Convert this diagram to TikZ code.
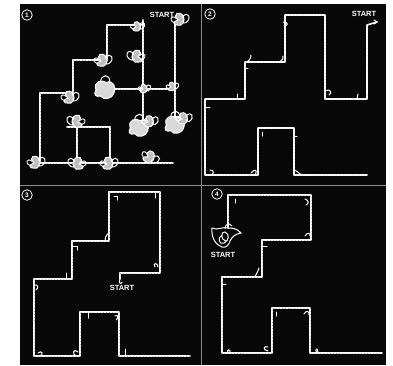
\documentclass[tikz,border=0pt]{standalone}
\usepackage{fontspec}
\setsansfont{Liberation Sans}
\begin{document}
\begin{tikzpicture}[x=1pt,y=-1pt,
  trace/.style={draw=white, line width=1.6pt, line cap=round, line join=round},
  beads/.style={trace, postaction={draw=black!30, line width=0.5pt, dash pattern=on 0.5pt off 2.6pt}},
  hook/.style={draw=white, line width=1pt, line cap=round},
  numcirc/.style={circle, draw=white, line width=0.8pt, inner sep=0pt, minimum size=10.5pt, text=white, font=\fontsize{6.5}{7}\sffamily\bfseries},
  startlbl/.style={text=white, inner sep=0pt, font=\fontsize{7.5}{8}\sffamily\bfseries},
  blob/.pic={
    \draw[draw=white, line width=1pt, fill=black!25] (0,0) .. controls (-5,-4) and (1,-8) .. (4,-3) .. controls (6,1) and (3,5) .. (0,4) .. controls (-3,4) and (-5,2) .. cycle;
    \draw[draw=white, line width=1pt] (3,-2) .. controls (8,-8) and (11,-1) .. (6,2) .. controls (4,3) and (3,1) .. (4,0);
    \draw[draw=white, line width=0.9pt] (-1,-1) .. controls (-6,-5) and (-7,1) .. (-3,2);
  },
  bigblob/.pic={
    \draw[draw=white, line width=1pt, fill=black!15] (-6,0) .. controls (-8,-6) and (-2,-7) .. (1,-5) .. controls (5,-7) and (8,-2) .. (6,2) .. controls (5,6) and (-1,7) .. (-3,4) .. controls (-6,5) and (-8,3) .. cycle;
    \draw[draw=white, line width=1pt] (-3,-5) .. controls (-3,-11) and (4,-11) .. (3,-5);
  }
]
\useasboundingbox (0,0) rectangle (393,365);
\fill[white] (0,0) rectangle (393,365);
\fill[black!97] (20,4) rectangle (386,365);
\draw[black!45, line width=0.6pt] (201,4) -- (201,365);
\draw[black!45, line width=0.6pt] (20,185) -- (386,185);

% ---------- panel 1 ----------
\node[numcirc] (n1) at (27,15) {1};
\node[startlbl] (s1) at (162,15) {START};
\draw[beads] (175,24) -- (175,123);
\draw[beads] (108,89) -- (173,89);
\draw[beads] (143,20) -- (143,128);
\draw[beads] (107,25) -- (143,25);
\draw[beads] (107,25) -- (107,60);
\draw[beads] (73,60) -- (107,60);
\draw[beads] (73,60) -- (73,93);
\draw[beads] (40,93) -- (72,93);
\draw[beads] (40,93) -- (40,163);
\draw[beads] (35,163) -- (173,163);
\draw[beads] (67,127) -- (110,127);
\draw[beads] (77,127) -- (77,163);
\draw[beads] (110,127) -- (110,163);
\pic[scale=1.3] at (178,20) {blob};
\pic[scale=1.0] at (136,27) {blob};
\pic[xscale=-1.3,yscale=1.3] at (138,57) {blob};
\pic[scale=1.3] at (101,61) {blob};
\pic[scale=1.3] at (68,98) {blob};
\pic[scale=1.5] at (105,90) {bigblob};
\pic[scale=0.9] at (143,89) {blob};
\pic[scale=0.9] at (171,87) {blob};
\pic[scale=1.45] at (139,128) {bigblob};
\pic[scale=1.2] at (148,122) {blob};
\pic[scale=1.45] at (175,125) {bigblob};
\pic[scale=1.2] at (182,119) {blob};
\pic[xscale=-1.3,yscale=1.3] at (78,122) {blob};
\pic[scale=1.3] at (34,163) {blob};
\pic[xscale=-1.3,yscale=1.3] at (79,164) {blob};
\pic[scale=1.3] at (107,164) {blob};
\pic[rotate=-30,scale=1.3] at (148,157) {blob};

% ---------- panel 2 ----------
\node[numcirc] (n2) at (210,14) {2};
\node[startlbl] (s2) at (364,14) {START};
\draw[beads] (377,22) -- (367,25) -- (367,99) -- (325,99) -- (325,15) -- (285,15) -- (285,62) -- (245,62) -- (245,99) -- (205,99) -- (205,175) -- (258,175) -- (258,128) -- (294,128) -- (294,175) -- (367,175);
\draw[hook] (374,20) -- (377,22) -- (374,24);
\draw[hook] (325,91) .. controls (330,88) and (333,93) .. (329,95);
\draw[hook] (357,99) -- (358,94);
\draw[hook] (283,22) .. controls (289,22) and (288,26) .. (284,26);
\draw[hook] (245,62) .. controls (249,62) and (251,58) .. (251,55);
\draw[hook] (279,62) .. controls (283,60) and (284,58) .. (283,56);
\draw[hook] (245,68) -- (248,68);
\draw[hook] (237,99) -- (237,94);
\draw[hook] (205,107) -- (210,107);
\draw[hook] (251,173) .. controls (255,168) and (258,170) .. (255,175);
\draw[hook] (262,132) -- (262,136);
\draw[hook] (294,136) -- (297,136);
\draw[hook] (294,170) .. controls (298,171) and (300,175) .. (303,175);
\draw[hook] (210,170) .. controls (215,170) and (214,175) .. (210,175);

% ---------- panel 3 ----------
\node[numcirc] (n3) at (27,195) {3};
\node[startlbl] (s3) at (122,288) {START};
\draw[beads] (120,279) -- (120,273) -- (160,273) -- (160,192) -- (109,192) -- (109,241) -- (72,241) -- (72,279) -- (34,279) -- (34,356) -- (80,356) -- (80,312) -- (119,312) -- (119,356) -- (190,356);
\draw[hook] (120,279) .. controls (118,283) and (121,285) .. (122,282);
\draw[hook] (155,267) .. controls (152,263) and (158,262) .. (158,267);
\draw[hook] (155,192) -- (155,198);
\draw[hook] (114,196) -- (117,196) -- (117,200);
\draw[hook] (109,233) .. controls (106,235) and (104,239) .. (106,241);
\draw[hook] (72,246) -- (77,246) -- (77,250);
\draw[hook] (66,279) -- (66,273);
\draw[hook] (34,285) .. controls (38,284) and (39,288) .. (36,290);
\draw[hook] (38,353) .. controls (42,350) and (44,354) .. (40,356);
\draw[hook] (78,352) .. controls (73,348) and (72,354) .. (76,356);
\draw[hook] (88,312) -- (88,318);
\draw[hook] (115,316) .. controls (118,314) and (119,318) .. (116,320);
\draw[hook] (125,356) -- (125,349);

% ---------- panel 4 ----------
\node[numcirc] (n4) at (217,194) {4};
\node[startlbl] (s4) at (223,255) {START};
\draw[beads] (228,228) -- (228,195) -- (311,195) -- (311,240) -- (262,240) -- (262,277) -- (222,277) -- (222,353) -- (272,353) -- (272,308) -- (310,308) -- (310,353) -- (382,353);
\draw[draw=white, line width=1pt] (212,228) .. controls (211,238) and (216,245) .. (222,247) .. controls (226,248) and (229,245) .. (230,241) .. controls (232,237) and (235,234) .. (241,233) .. controls (237,228) and (231,228) .. (228,228) .. controls (224,226) and (217,231) .. (212,228);
\draw[draw=white, line width=1pt] (222,235) .. controls (217,238) and (219,245) .. (224,243) .. controls (229,241) and (230,234) .. (225,232) .. controls (221,231) and (220,240) .. (226,241);
\draw[draw=white, line width=0.9pt] (225,229) .. controls (225,224) and (229,222) .. (232,226);
\draw[hook] (235,199) -- (235,203);
\draw[hook] (305,199) .. controls (309,200) and (309,204) .. (306,205);
\draw[hook] (305,236) .. controls (307,232) and (311,233) .. (310,236);
\draw[hook] (262,246) -- (267,246);
\draw[hook] (255,277) .. controls (257,272) and (259,270) .. (259,268);
\draw[hook] (222,284) -- (226,284);
\draw[hook] (228,353) .. controls (226,349) and (231,349) .. (230,352);
\draw[hook] (268,347) .. controls (264,345) and (262,350) .. (268,351);
\draw[hook] (276,312) -- (276,316);
\draw[hook] (304,314) .. controls (306,310) and (310,311) .. (309,315);
\draw[hook] (317,353) .. controls (314,349) and (318,347) .. (318,352);
\end{tikzpicture}
\end{document}
